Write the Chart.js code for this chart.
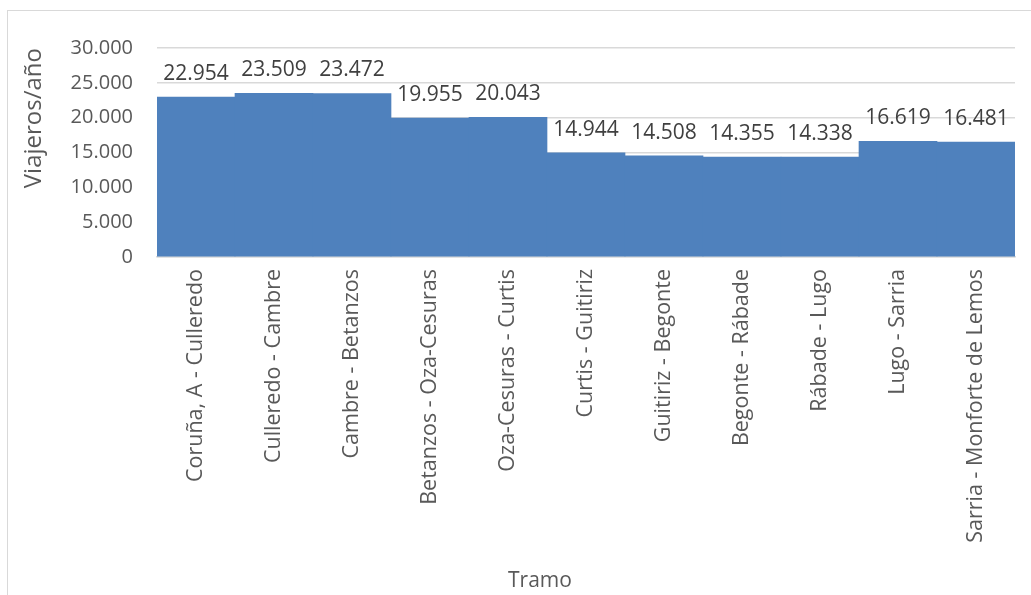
<!DOCTYPE html>
<html lang="es">
<head>
<meta charset="utf-8">
<title>Viajeros por tramo</title>
<script src="https://cdn.jsdelivr.net/npm/chart.js@4.4.1/dist/chart.umd.min.js"></script>
<style>
    html, body { margin: 0; padding: 0; background: #fff; overflow: hidden; }
    #marco {
        position: absolute; left: 7px; top: 10px;
        width: 1100px; height: 700px;
        border: 1px solid #d9d9d9;
    }
    #grafico { position: absolute; left: 0; top: 0; }
</style>
</head>
<body>
<div id="marco"></div>
<canvas id="grafico" width="1031" height="595"></canvas>
<script>
// Tramos de la línea y viajeros anuales
const tramos = [
    'Coruña, A - Culleredo', 'Culleredo - Cambre', 'Cambre - Betanzos',
    'Betanzos - Oza-Cesuras', 'Oza-Cesuras - Curtis', 'Curtis - Guitiriz',
    'Guitiriz - Begonte', 'Begonte - Rábade', 'Rábade - Lugo',
    'Lugo - Sarria', 'Sarria - Monforte de Lemos'
];
const viajeros = [22954, 23509, 23472, 19955, 20043, 14944, 14508, 14355, 14338, 16619, 16481];
const ticksY = [0, 5000, 10000, 15000, 20000, 25000, 30000];

const fuente = "'Open Sans', 'Noto Sans', sans-serif";

// Separador de miles con punto
function formatoMiles(n) {
    return String(n).replace(/\B(?=(\d{3})+(?!\d))/g, '.');
}

// Etiquetas de valor encima de cada barra
const etiquetasValor = {
    id: 'etiquetasValor',
    afterDatasetsDraw(chart) {
        const ctx = chart.ctx;
        const meta = chart.getDatasetMeta(0);
        ctx.save();
        ctx.font = '21px ' + fuente;
        ctx.fillStyle = '#404040';
        ctx.textAlign = 'center';
        ctx.textBaseline = 'alphabetic';
        meta.data.forEach((barra, i) => {
            ctx.fillText(formatoMiles(viajeros[i]), barra.x, barra.y - 17);
        });
        ctx.restore();
    }
};

// Título del eje horizontal, centrado en el marco del gráfico
const tituloEjeX = {
    id: 'tituloEjeX',
    afterDraw(chart) {
        const ctx = chart.ctx;
        const marco = document.getElementById('marco');
        const centro = marco.offsetLeft + marco.offsetWidth / 2 - 18;
        ctx.save();
        ctx.font = '21px ' + fuente;
        ctx.fillStyle = '#595959';
        ctx.textAlign = 'center';
        ctx.textBaseline = 'middle';
        ctx.fillText('Tramo', centro, 581);
        ctx.restore();
    }
};

const ctx = document.getElementById('grafico').getContext('2d');
new Chart(ctx, {
    type: 'bar',
    data: {
        labels: tramos,
        datasets: [{
            label: 'Viajeros/año',
            data: viajeros,
            backgroundColor: '#4f81bd',
            borderWidth: 0,
            categoryPercentage: 1,
            barPercentage: 1
        }]
    },
    options: {
        responsive: false,
        animation: false,
        layout: { padding: { top: 48, right: 16, bottom: 0, left: 0 } },
        plugins: {
            legend: { display: false },
            tooltip: { enabled: false }
        },
        scales: {
            x: {
                grid: { display: false, drawTicks: false },
                border: { display: true, color: '#d9d9d9', width: 1.5 },
                ticks: {
                    minRotation: 90,
                    maxRotation: 90,
                    autoSkip: false,
                    padding: 12,
                    color: '#595959',
                    font: { family: fuente, size: 21.5 }
                },
                afterFit(scale) { scale.height = 338; }
            },
            y: {
                min: 0,
                max: 30000,
                afterBuildTicks(scale) {
                    scale.ticks = ticksY.map(v => ({ value: v }));
                },
                grid: { color: '#d9d9d9', lineWidth: 1.5, drawTicks: false },
                border: { display: false },
                ticks: {
                    padding: 24,
                    color: '#595959',
                    font: { family: fuente, size: 20 },
                    callback: v => formatoMiles(v)
                },
                title: {
                    display: true,
                    text: 'Viajeros/año',
                    align: 'end',
                    color: '#595959',
                    font: { family: fuente, size: 24 },
                    padding: { top: 20, bottom: 0 }
                },
                afterFit(scale) { scale.width = 157; }
            }
        }
    },
    plugins: [etiquetasValor, tituloEjeX]
});
</script>
</body>
</html>
